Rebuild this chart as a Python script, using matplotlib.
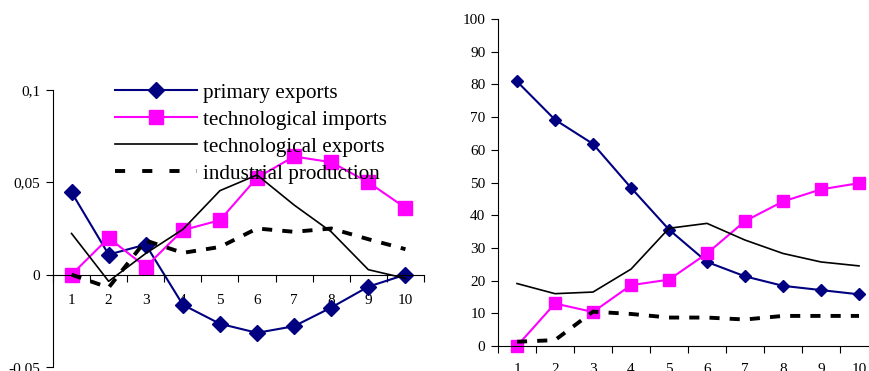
import numpy as np
import matplotlib.pyplot as plt

plt.rcParams['font.family'] = ['Liberation Serif', 'DejaVu Serif']

categories = [1, 2, 3, 4, 5, 6, 7, 8, 9, 10]
series_names = ['primary exports', 'technological imports',
                'technological exports', 'industrial production']

# growth rates (left panel)
growth_primary = [0.0446, 0.0109, 0.0163, -0.0163, -0.0266, -0.0315, -0.0279, -0.0178, -0.0065, 0.0]
growth_tech_imp = [0.0, 0.0199, 0.0042, 0.0241, 0.0295, 0.0525, 0.0640, 0.0609, 0.0500, 0.0362]
growth_tech_exp = [0.0223, -0.0036, 0.0115, 0.0245, 0.0455, 0.0540, 0.0377, 0.0232, 0.0027, -0.0020]
growth_industry = [0.0, -0.0070, 0.0185, 0.0118, 0.0150, 0.0250, 0.0232, 0.0250, 0.0192, 0.0138]

# shares (right panel)
share_primary = [80.9, 69.2, 61.8, 48.4, 35.6, 25.7, 21.3, 18.4, 17.1, 15.8]
share_tech_imp = [0.0, 13.0, 10.4, 18.6, 20.3, 28.3, 38.2, 44.2, 47.9, 49.8]
share_tech_exp = [19.1, 16.0, 16.5, 23.5, 36.0, 37.5, 32.4, 28.3, 25.7, 24.5]
share_industry = [1.3, 1.8, 10.5, 9.8, 8.7, 8.7, 8.1, 9.2, 9.2, 9.2]

NAVY = '#000080'
MAGENTA = '#ff00ff'

fig = plt.figure(figsize=(8.7, 3.71), dpi=100)
ax1 = fig.add_axes([53 / 870, 4 / 371, 371 / 870, 277 / 371])
ax2 = fig.add_axes([498 / 870, 25 / 371, 380 / 870, 327 / 371])


def draw(ax, prim, imp, exp, ind, big):
    x = np.array(categories)
    ms_d = 8.0 if big else 6.0
    ms_s = 9.5 if big else 8.5
    ax.plot(x, prim, color=NAVY, lw=1.5, marker='D', ms=ms_d,
            mfc=NAVY, mec=NAVY, label=series_names[0], clip_on=False)
    ax.plot(x, imp, color=MAGENTA, lw=1.5, marker='s', ms=ms_s,
            mfc=MAGENTA, mec=MAGENTA, label=series_names[1], clip_on=False)
    ax.plot(x, exp, color='black', lw=1.2, label=series_names[2], clip_on=False)
    ax.plot(x, ind, color='black', lw=2.8, dashes=(2.6, 2.6),
            label=series_names[3], clip_on=False)

    ax.set_xlim(0.5, 10.5)
    ax.set_xticks(np.arange(0.5, 11, 1.0))
    ax.set_xticks(x, minor=True)
    ax.set_xticklabels([])
    ax.set_xticklabels([str(c) for c in categories], minor=True)
    ax.tick_params(axis='x', which='major', direction='out', length=5, width=0.8)
    ax.tick_params(axis='x', which='minor', length=0, pad=14, labelsize=11)
    ax.tick_params(axis='y', direction='out', length=5, width=0.8, pad=4, labelsize=11)
    for s in ('top', 'right'):
        ax.spines[s].set_visible(False)
    for s in ('left', 'bottom'):
        ax.spines[s].set_color('black')
        ax.spines[s].set_linewidth(0.8)


draw(ax1, growth_primary, growth_tech_imp, growth_tech_exp, growth_industry, True)
ax1.set_ylim(-0.05, 0.1)
ax1.set_yticks([-0.05, 0, 0.05, 0.1])
ax1.set_yticklabels(['-0,05', '0', '0,05', '0,1'])
ax1.spines['bottom'].set_position(('data', 0))

draw(ax2, share_primary, share_tech_imp, share_tech_exp, share_industry, False)
ax2.set_ylim(0, 100)
ax2.set_yticks(np.arange(0, 101, 10))
ax2.tick_params(axis='x', which='minor', pad=12)

leg = ax1.legend(loc='upper left', bbox_to_anchor=(115 / 870, 1 - 83 / 371),
                 bbox_transform=fig.transFigure, frameon=False, fontsize=15.2,
                 handlelength=3.9, handletextpad=0.25, labelspacing=0.34,
                 borderpad=0, borderaxespad=0)
for h in leg.get_lines():
    if h.get_linewidth() > 2:
        h.set_dashes((2.6, 4.4))

fig.savefig('out.png', dpi=100)
